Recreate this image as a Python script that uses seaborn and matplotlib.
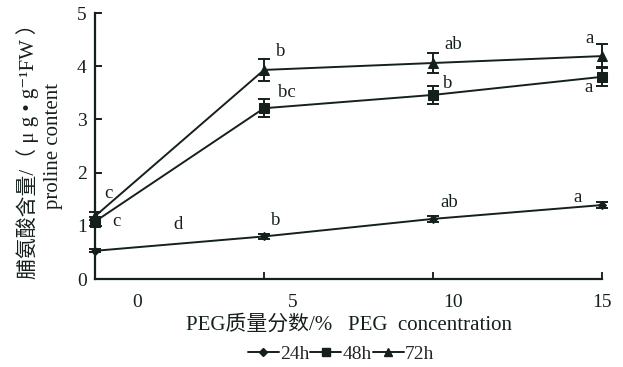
import matplotlib
matplotlib.use("Agg")
import matplotlib.pyplot as plt
from matplotlib.lines import Line2D
import seaborn as sns
import pandas as pd

categories = ["0", "5", "10", "15"]
series = ["24h", "48h", "72h"]
v24 = [0.53, 0.80, 1.13, 1.39]
v48 = [1.08, 3.21, 3.46, 3.80]
v72 = [1.18, 3.93, 4.06, 4.19]
e24 = [0.03, 0.04, 0.05, 0.06]
e48 = [0.08, 0.17, 0.17, 0.18]
e72 = [0.08, 0.20, 0.19, 0.22]
sig24 = ["d", "b", "ab", "a"]
sig48 = ["c", "bc", "b", "a"]
sig72 = ["c", "b", "ab", "a"]

sns.set_style("ticks")
plt.rcParams['font.family'] = ['Liberation Serif', 'Noto Sans CJK SC', 'DejaVu Serif']

color = "#15201c"
fig = plt.figure(figsize=(6.23, 3.67), dpi=100)
ax = fig.add_axes([95/623, 1-279/367, (602-95)/623, (279-13)/367])

pos = list(range(len(categories)))
df = pd.DataFrame({
    "pos": pos * 3,
    "value": v24 + v48 + v72,
    "series": [s for s in series for _ in categories],
})
markers = {"24h": "D", "48h": "s", "72h": "^"}
sizes = {"24h": 4.5, "48h": 6.5, "72h": 7}
sns.lineplot(data=df, x="pos", y="value", style="series", markers=markers,
             dashes=False, color=color, linewidth=1.4, markersize=6.5,
             ax=ax, legend=False)
for line, s in zip(ax.lines, series):
    line.set_markersize(sizes[s])
    line.set_markeredgecolor(color)
    line.set_markerfacecolor(color)
    line.set_clip_on(False)

for vals, errs in [(v24, e24), (v48, e48), (v72, e72)]:
    eb = ax.errorbar(pos, vals, yerr=errs, fmt="none", ecolor=color,
                     elinewidth=1.4, capsize=4, capthick=1.4)
    for art in eb.lines[1] + eb.lines[2]:
        art.set_clip_on(False)

off24 = [(83, 26), (12, 16), (16, 16), (-24, 8)]
off48 = [(21, 0), (23, 16), (15, 11), (-13, -11)]
off72 = [(13, 23), (17, 18), (20, 19), (-12, 18)]
for vals, sigs, offs in [(v24, sig24, off24), (v48, sig48, off48), (v72, sig72, off72)]:
    for i, (v, s, o) in enumerate(zip(vals, sigs, offs)):
        ax.annotate(s, xy=(i, v), xytext=o, textcoords="offset pixels",
                    ha="center", va="center", fontsize=13.5, color=color)

ax.set_xlim(0, 3)
ax.set_ylim(0, 5)
ax.set_yticks(range(6))
ax.tick_params(axis="y", direction="in", length=5, width=1.4, pad=6,
               labelsize=14, colors=color)
ax.xaxis.remove_overlapping_locs = False
ax.set_xticks([1, 2, 3])
ax.set_xticklabels([])
ax.tick_params(axis="x", which="major", direction="in", length=5, width=1.4)
ax.set_xticks([0.25, 1.17, 2.12, 3.0], labels=categories, minor=True)
ax.tick_params(axis="x", which="minor", length=0, pad=11, labelsize=14,
               colors=color)
for sp in ["left", "bottom"]:
    ax.spines[sp].set_linewidth(1.6)
    ax.spines[sp].set_color(color)
ax.spines["top"].set_visible(False)
ax.spines["right"].set_visible(False)

ax.set_xlabel("PEG质量分数/%   PEG  concentration", fontsize=15, color=color,
              labelpad=3)
ax.set_ylabel("脯氨酸含量/（ μ g • g\u207b\u00b9FW ）\nproline content",
              fontsize=15, color=color, labelpad=10, linespacing=1.35)

handles = [Line2D([], [], color=color, marker=markers[s], linewidth=1.4,
                  markersize=sizes[s] * 0.8) for s in series]
fig.legend(handles, series, loc="center", bbox_to_anchor=(341/623, 1-354/367),
           ncol=3, frameon=False, handlelength=1.6, handletextpad=0.05,
           columnspacing=0.05, fontsize=14)

fig.savefig("out.png", dpi=100)
